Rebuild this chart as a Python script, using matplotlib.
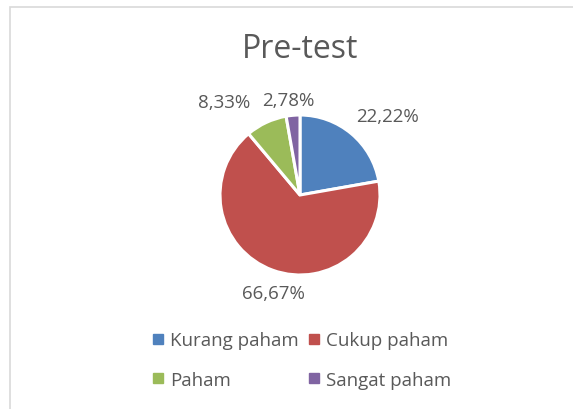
import matplotlib.pyplot as plt
from matplotlib.lines import Line2D
from matplotlib.patches import Rectangle
import numpy as np

categories = ['Kurang paham', 'Cukup paham', 'Paham', 'Sangat paham']
values = [22.22, 66.67, 8.33, 2.78]
colors = ['#4F81BD', '#C0504D', '#9BBB59', '#8064A2']
title = 'Pre-test'

plt.rcParams['font.family'] = ['Open Sans', 'DejaVu Sans']
txt = '#595959'

fig = plt.figure(figsize=(5.73, 4.10), dpi=100)
fig.patches.append(Rectangle((10 / 573, -0.2), 1.2, 1.2 - 8 / 410,
                             transform=fig.transFigure, fill=False,
                             edgecolor='#d9d9d9', linewidth=1.2))

ax = fig.add_axes([0, 0, 1, 1])
cx, cy, r = 300, 410 - 196, 80
wedges, _ = ax.pie(values, colors=colors, startangle=90, counterclock=False,
                   center=(cx, cy), radius=r,
                   wedgeprops=dict(edgecolor='white', linewidth=2.2))
ax.set_xlim(0, 573)
ax.set_ylim(0, 410)
ax.set_aspect('equal')
ax.axis('off')

# label distance per slice (Excel best-fit placement)
dist = [1.47, 1.27, 1.5, 1.2]
shift = [-8, 5, 14, 2]
for w, v, d, s in zip(wedges, values, dist, shift):
    ang = np.deg2rad((w.theta1 + w.theta2) / 2 + s)
    ax.text(cx + r * d * np.cos(ang), cy + r * d * np.sin(ang),
            f'{v:.2f}%'.replace('.', ','), ha='center', va='center',
            fontsize=13.5, color=txt)

fig.text(300 / 573, 1 - 50 / 410, title, ha='center', va='center',
         fontsize=23, color=txt)

handles = [Line2D([], [], marker='s', linestyle='none', markersize=6.5,
                  markerfacecolor=c, markeredgecolor=c) for c in colors]
order = [0, 2, 1, 3]  # fill legend row by row
fig.legend([handles[i] for i in order], [categories[i] for i in order],
           ncol=2, loc='center', bbox_to_anchor=(302 / 573, 1 - 361 / 410),
           frameon=False, fontsize=13.5, labelcolor=txt, handlelength=0.6,
           handletextpad=0.35, columnspacing=0.5, labelspacing=1.15)

fig.savefig('out.png', dpi=100)
